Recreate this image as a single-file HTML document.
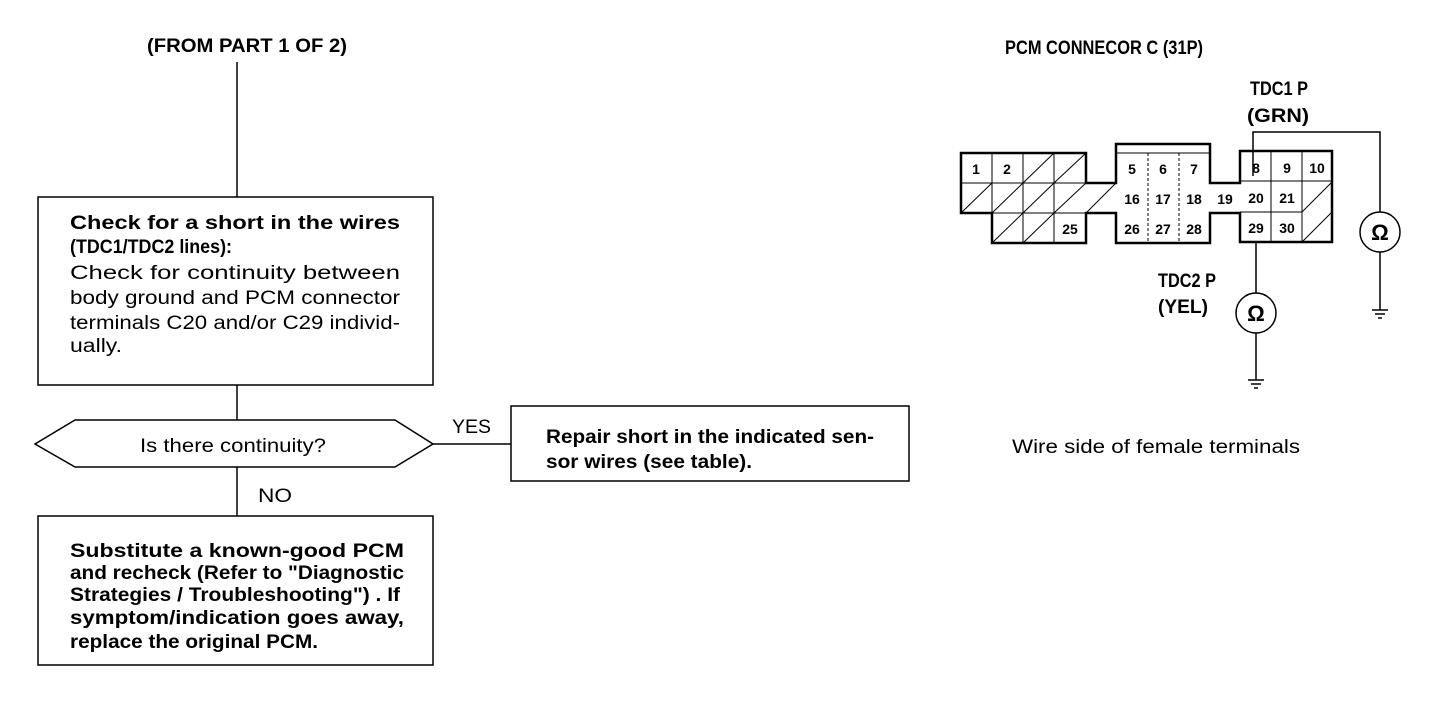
<!DOCTYPE html>
<html><head><meta charset="utf-8"><style>
html,body{margin:0;padding:0;background:#fff;}
svg{display:block;}
text{font-family:"Liberation Sans",Arial,sans-serif;fill:#000;}
.b{font-weight:bold;font-size:19px;}
.r{font-size:19px;}
.n{font-weight:bold;font-size:14px;text-anchor:middle;}
</style></head><body>
<svg width="1456" height="712" viewBox="0 0 1456 712" xmlns="http://www.w3.org/2000/svg">
<g stroke="#000" fill="none" stroke-width="1.5">
<line x1="237" y1="62" x2="237" y2="197"/>
<rect x="38" y="197" width="395" height="188"/>
<line x1="237" y1="385" x2="237" y2="420"/>
<polygon points="75,420 395,420 433,444 395,467 75,467 35,444"/>
<line x1="433" y1="444" x2="511" y2="444"/>
<rect x="511" y="406" width="398" height="75"/>
<line x1="237" y1="467" x2="237" y2="516"/>
<rect x="38" y="516" width="395" height="149"/>
</g>
<g lengthAdjust="spacingAndGlyphs">
<text class="b" x="147" y="52" textLength="200" lengthAdjust="spacingAndGlyphs">(FROM PART 1 OF 2)</text>
<text class="b" x="70" y="229" textLength="330" lengthAdjust="spacingAndGlyphs">Check for a short in the wires</text>
<text class="b" x="70" y="253" textLength="162" lengthAdjust="spacingAndGlyphs">(TDC1/TDC2 lines):</text>
<text class="r" x="70" y="279" textLength="330" lengthAdjust="spacingAndGlyphs">Check for continuity between</text>
<text class="r" x="70" y="304" textLength="330" lengthAdjust="spacingAndGlyphs">body ground and PCM connector</text>
<text class="r" x="70" y="329" textLength="330" lengthAdjust="spacingAndGlyphs">terminals C20 and/or C29 individ-</text>
<text class="r" x="70" y="352" textLength="52" lengthAdjust="spacingAndGlyphs">ually.</text>
<text class="r" x="140" y="452" textLength="186" lengthAdjust="spacingAndGlyphs">Is there continuity?</text>
<text class="r" x="452" y="433" textLength="39" lengthAdjust="spacingAndGlyphs">YES</text>
<text class="r" x="258" y="502" textLength="34" lengthAdjust="spacingAndGlyphs">NO</text>
<text class="b" x="546" y="443" textLength="328" lengthAdjust="spacingAndGlyphs">Repair short in the indicated sen-</text>
<text class="b" x="546" y="468" textLength="206" lengthAdjust="spacingAndGlyphs">sor wires (see table).</text>
<text class="b" x="70" y="557" textLength="334" lengthAdjust="spacingAndGlyphs">Substitute a known-good PCM</text>
<text class="b" x="70" y="579" textLength="334" lengthAdjust="spacingAndGlyphs">and recheck (Refer to "Diagnostic</text>
<text class="b" x="70" y="601" textLength="330" lengthAdjust="spacingAndGlyphs">Strategies / Troubleshooting") . If</text>
<text class="b" x="70" y="624" textLength="334" lengthAdjust="spacingAndGlyphs">symptom/indication goes away,</text>
<text class="b" x="70" y="648" textLength="248" lengthAdjust="spacingAndGlyphs">replace the original PCM.</text>

<text class="b" x="1005" y="54" font-size="17" textLength="198" lengthAdjust="spacingAndGlyphs">PCM CONNECOR C (31P)</text>
<text class="b" x="1250" y="95" font-size="17" textLength="58" lengthAdjust="spacingAndGlyphs">TDC1 P</text>
<text class="b" x="1247" y="122" font-size="17" textLength="62" lengthAdjust="spacingAndGlyphs">(GRN)</text>
<text class="b" x="1158" y="287" font-size="17" textLength="58" lengthAdjust="spacingAndGlyphs">TDC2 P</text>
<text class="b" x="1158" y="313" font-size="17" textLength="50" lengthAdjust="spacingAndGlyphs">(YEL)</text>
<text class="r" x="1012" y="453" textLength="288" lengthAdjust="spacingAndGlyphs">Wire side of female terminals</text>
</g>

<g stroke="#000" fill="none" stroke-width="1">
<line x1="1023" y1="183" x2="1054" y2="153"/><line x1="1054" y1="183" x2="1086" y2="153"/>
<line x1="961" y1="213" x2="992" y2="183"/><line x1="992" y1="213" x2="1023" y2="183"/><line x1="1023" y1="213" x2="1054" y2="183"/><line x1="1054" y1="213" x2="1086" y2="183"/>
<line x1="992" y1="243" x2="1023" y2="213"/><line x1="1023" y1="243" x2="1054" y2="213"/>
<line x1="1086" y1="213" x2="1116" y2="183"/>
<line x1="1302" y1="212" x2="1332" y2="182"/><line x1="1302" y1="242" x2="1332" y2="212"/>
<line x1="961" y1="183" x2="1086" y2="183"/><line x1="961" y1="213" x2="1086" y2="213"/>
<line x1="992" y1="153" x2="992" y2="243"/><line x1="1023" y1="153" x2="1023" y2="243"/><line x1="1054" y1="153" x2="1054" y2="243"/>
<line x1="1116" y1="153" x2="1210" y2="153"/><line x1="1148" y1="153" x2="1148" y2="243" stroke-dasharray="3,2"/><line x1="1179" y1="153" x2="1179" y2="243" stroke-dasharray="3,2"/>
<line x1="1240" y1="181" x2="1302" y2="181"/><line x1="1240" y1="212" x2="1302" y2="212"/>
<line x1="1271" y1="151" x2="1271" y2="242"/><line x1="1302" y1="151" x2="1302" y2="242"/>
<line x1="1302" y1="181" x2="1332" y2="181"/>
</g>
<g stroke="#000" fill="none" stroke-width="2.5">
<polygon points="961,153 1086,153 1086,183 1116,183 1116,144 1210,144 1210,183 1240,183 1240,151 1332,151 1332,242 1240,242 1240,213 1210,213 1210,243 1116,243 1116,213 1086,213 1086,243 992,243 992,213 961,213"/>
</g>
<g>
<text class="n" x="976" y="174">1</text><text class="n" x="1007" y="174">2</text>
<text class="n" x="1070" y="234">25</text>
<text class="n" x="1132" y="174">5</text><text class="n" x="1163" y="174">6</text><text class="n" x="1194" y="174">7</text>
<text class="n" x="1132" y="204">16</text><text class="n" x="1163" y="204">17</text><text class="n" x="1194" y="204">18</text>
<text class="n" x="1225" y="204">19</text>
<text class="n" x="1132" y="234">26</text><text class="n" x="1163" y="234">27</text><text class="n" x="1194" y="234">28</text>
<text class="n" x="1256" y="173">8</text><text class="n" x="1287" y="173">9</text><text class="n" x="1317" y="173">10</text>
<text class="n" x="1256" y="203">20</text><text class="n" x="1287" y="203">21</text>
<text class="n" x="1256" y="233">29</text><text class="n" x="1287" y="233">30</text>
</g>
<g stroke="#000" fill="none" stroke-width="1.5">
<polyline points="1253,176 1253,132 1380,132 1380,212"/>
<circle cx="1380" cy="232" r="20"/>
<line x1="1380" y1="252" x2="1380" y2="310"/>
<line x1="1372" y1="310" x2="1388" y2="310"/><line x1="1375" y1="314" x2="1385" y2="314"/><line x1="1378" y1="318" x2="1382" y2="318"/>
<line x1="1256" y1="242" x2="1256" y2="293"/>
<circle cx="1256" cy="313" r="20"/>
<line x1="1256" y1="333" x2="1256" y2="380"/>
<line x1="1248" y1="380" x2="1264" y2="380"/><line x1="1251" y1="384" x2="1261" y2="384"/><line x1="1254" y1="388" x2="1258" y2="388"/>
</g>
<text x="1380" y="240" font-size="22" font-weight="bold" text-anchor="middle">Ω</text>
<text x="1256" y="321" font-size="22" font-weight="bold" text-anchor="middle">Ω</text>
</svg>
</body></html>
